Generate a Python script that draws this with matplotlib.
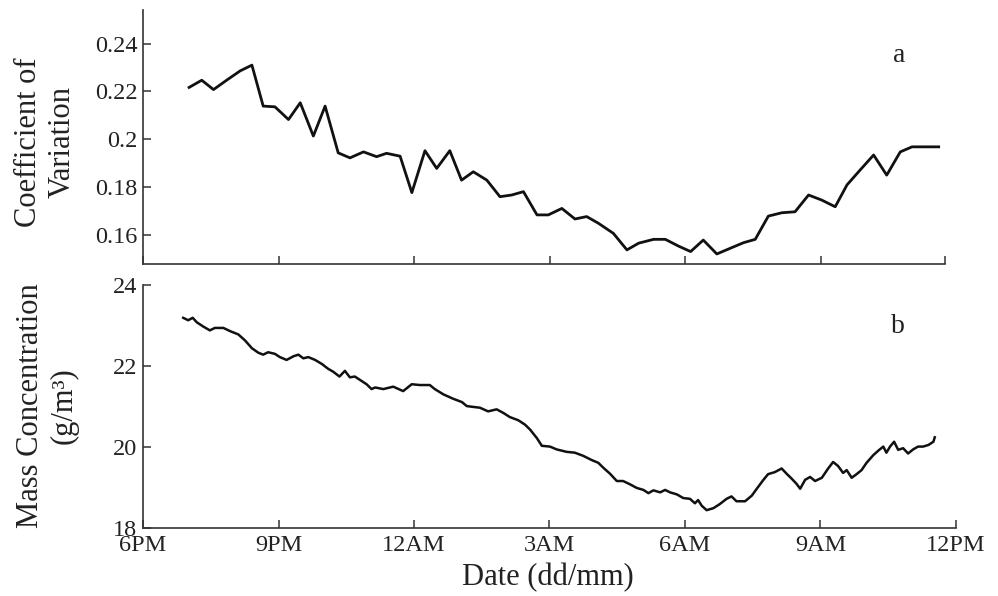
import matplotlib
matplotlib.use("Agg")
import matplotlib.pyplot as plt

plt.rcParams['font.family'] = ['Liberation Serif', 'DejaVu Serif']

# hours after 6PM, coefficient of variation
cv_hours = [1.02, 1.30, 1.56, 1.85, 2.15, 2.41, 2.66, 2.92, 3.22, 3.48,
            3.77, 4.03, 4.32, 4.58, 4.88, 5.17, 5.39, 5.69, 5.95, 6.24,
            6.50, 6.79, 7.05, 7.31, 7.61, 7.90, 8.16, 8.42, 8.72, 8.97,
            9.27, 9.56, 9.82, 10.08, 10.41, 10.71, 10.97, 11.30, 11.56, 11.85,
            12.12, 12.40, 12.70, 13.00, 13.29, 13.55, 13.84, 14.14, 14.43, 14.73,
            15.02, 15.32, 15.58, 15.87, 16.17, 16.46, 16.76, 17.02, 17.31, 17.61]
cv_values = [0.2217, 0.2247, 0.2208, 0.2247, 0.2286, 0.2310, 0.2139, 0.2136, 0.2083, 0.2153,
             0.2014, 0.2139, 0.1944, 0.1923, 0.1948, 0.1928, 0.1942, 0.1930, 0.1778, 0.1953,
             0.1879, 0.1953, 0.1830, 0.1865, 0.1830, 0.1761, 0.1768, 0.1782, 0.1685, 0.1685,
             0.1712, 0.1668, 0.1678, 0.1650, 0.1608, 0.1539, 0.1567, 0.1583, 0.1583, 0.1555,
             0.1532, 0.1580, 0.1522, 0.1546, 0.1569, 0.1583, 0.1680, 0.1694, 0.1698, 0.1768,
             0.1747, 0.1719, 0.1810, 0.1872, 0.1935, 0.1851, 0.1948, 0.1969, 0.1969, 0.1969]

# hours after 6PM, mass concentration (g/m3)
mc_hours = [0.89, 1.00, 1.10, 1.19, 1.34, 1.48, 1.59, 1.78, 1.93, 2.11,
            2.26, 2.41, 2.55, 2.66, 2.77, 2.92, 3.03, 3.18, 3.33, 3.44,
            3.55, 3.66, 3.81, 3.96, 4.10, 4.21, 4.35, 4.47, 4.58, 4.69,
            4.84, 4.95, 5.06, 5.14, 5.32, 5.54, 5.76, 5.95, 6.13, 6.35,
            6.46, 6.65, 6.87, 7.06, 7.17, 7.31, 7.46, 7.64, 7.83, 7.98,
            8.12, 8.31, 8.46, 8.57, 8.72, 8.83, 9.01, 9.16, 9.27, 9.38,
            9.56, 9.75, 9.93, 10.08, 10.19, 10.34, 10.49, 10.63, 10.78, 10.93,
            11.08, 11.19, 11.30, 11.45, 11.56, 11.67, 11.82, 11.96, 12.11, 12.22,
            12.29, 12.37, 12.48, 12.63, 12.77, 12.92, 13.03, 13.14, 13.33, 13.48,
            13.59, 13.73, 13.84, 13.99, 14.14, 14.25, 14.36, 14.47, 14.55, 14.66,
            14.77, 14.88, 15.03, 15.17, 15.28, 15.39, 15.50, 15.58, 15.69, 15.80,
            15.91, 16.02, 16.17, 16.28, 16.39, 16.46, 16.54, 16.63, 16.72, 16.83,
            16.94, 17.05, 17.16, 17.27, 17.39, 17.50, 17.53]
mc_values = [23.19, 23.13, 23.19, 23.08, 22.97, 22.88, 22.94, 22.94, 22.86, 22.78,
             22.63, 22.44, 22.33, 22.28, 22.34, 22.30, 22.22, 22.15, 22.24, 22.28,
             22.19, 22.22, 22.15, 22.05, 21.93, 21.86, 21.74, 21.88, 21.72, 21.74,
             21.63, 21.55, 21.43, 21.47, 21.43, 21.49, 21.38, 21.55, 21.53, 21.53,
             21.43, 21.30, 21.19, 21.11, 21.01, 20.99, 20.97, 20.88, 20.93, 20.84,
             20.74, 20.66, 20.55, 20.43, 20.22, 20.03, 20.01, 19.94, 19.91, 19.88,
             19.86, 19.78, 19.68, 19.61, 19.49, 19.34, 19.16, 19.16, 19.08, 18.99,
             18.94, 18.86, 18.93, 18.88, 18.94, 18.88, 18.83, 18.74, 18.72, 18.61,
             18.69, 18.55, 18.44, 18.49, 18.59, 18.72, 18.78, 18.66, 18.66, 18.80,
             18.97, 19.18, 19.33, 19.38, 19.47, 19.34, 19.22, 19.09, 18.97, 19.19,
             19.26, 19.16, 19.24, 19.47, 19.63, 19.53, 19.36, 19.43, 19.24, 19.33,
             19.43, 19.61, 19.80, 19.91, 20.01, 19.86, 20.01, 20.13, 19.93, 19.97,
             19.84, 19.94, 20.01, 20.01, 20.05, 20.13, 20.24]

time_ticks = [0, 3, 6, 9, 12, 15, 18]
time_labels = ['6PM', '9PM', '12AM', '3AM', '6AM', '9AM', '12PM']
cv_ticks = [0.16, 0.18, 0.2, 0.22, 0.24]
mc_ticks = [18, 20, 22, 24]

fig = plt.figure(figsize=(9.98, 5.96), dpi=100)
ax1 = fig.add_axes([0.1433, 0.557, 0.8036, 0.4262])
ax2 = fig.add_axes([0.1433, 0.1141, 0.8146, 0.4077])

for ax in (ax1, ax2):
    for s in ('top', 'right'):
        ax.spines[s].set_visible(False)
    for s in ('left', 'bottom'):
        ax.spines[s].set_linewidth(1.2)
        ax.spines[s].set_color('#333333')
    ax.tick_params(direction='in', length=6, width=1.1, color='#333333',
                   labelsize=17.5, labelcolor='#222222')
    ax.tick_params(axis='x', pad=5)
    ax.tick_params(axis='y', pad=4)

# panel a
ax1.plot(cv_hours, cv_values, color='#111111', lw=2.0)
ax1.set_xlim(0, 17.75)
ax1.set_ylim(0.148, 0.254)
ax1.set_xticks(time_ticks[:-1] + [17.75])
ax1.set_xticklabels([])
ax1.set_yticks(cv_ticks)
ax1.set_yticklabels(['{:g}'.format(t) for t in cv_ticks])
ax1.text(0.943, 0.82, 'a', transform=ax1.transAxes, fontsize=20,
         ha='center', va='center', color='#222222')

# panel b
ax2.plot(mc_hours, mc_values, color='#111111', lw=1.8)
ax2.set_xlim(0, 18)
ax2.set_ylim(18, 24)
ax2.set_xticks(time_ticks)
ax2.set_xticklabels(time_labels)
ax2.set_yticks(mc_ticks)
ax2.text(0.928, 0.83, 'b', transform=ax2.transAxes, fontsize=20,
         ha='center', va='center', color='#222222')

fig.text(45 / 998, 1 - 142 / 596, 'Coefficient of\nVariation', rotation=90,
         ha='center', va='center', fontsize=22, color='#222222')
fig.text(47 / 998, 1 - 406 / 596, 'Mass Concentration\n(g/m³)', rotation=90,
         ha='center', va='center', fontsize=22, color='#222222')
fig.text(548 / 998, 1 - 578 / 596, 'Date (dd/mm)', ha='center', va='center',
         fontsize=22, color='#222222')

fig.savefig('out.png', dpi=100)
